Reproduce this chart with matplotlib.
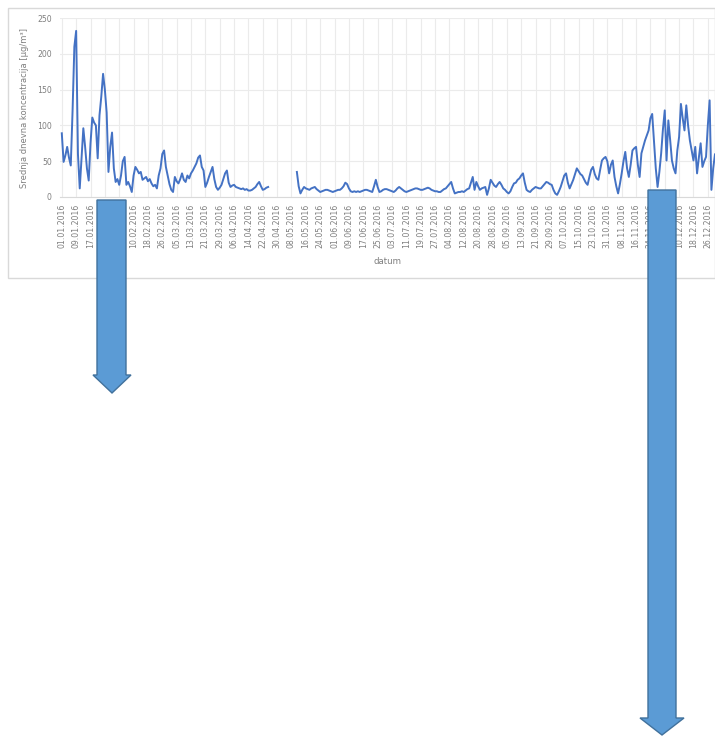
import numpy as np
import pandas as pd
import matplotlib
matplotlib.use("Agg")
import matplotlib.pyplot as plt
from matplotlib.patches import Rectangle, Polygon

# PODACI - srednja dnevna koncentracija 2016 (procjena s grafa)

jan_apr = [89, 49, 58, 70, 55, 44, 120, 210, 232, 60, 12, 55, 96, 70, 40, 23,
           75, 111, 104, 100, 54, 114, 140, 172, 150, 118, 35, 70, 90, 40, 21, 25,
           17, 30, 50, 56, 17, 21, 15, 7, 30, 42, 38, 33, 35, 24, 26, 28,
           22, 25, 19, 15, 17, 12, 30, 40, 60, 65, 42, 30, 18, 10, 7, 28,
           22, 19, 25, 33, 24, 21, 30, 26, 33, 37, 42, 47, 55, 58, 42, 37,
           14, 20, 28, 35, 42, 25, 14, 10, 13, 17, 25, 33, 37, 20, 14, 16,
           17, 14, 13, 12, 11, 12, 10, 11, 9, 9, 10, 12, 14, 18, 21, 15,
           10, 11, 13, 14]
praznina = 15  # dani bez mjerenja (kraj travnja - pocetak svibnja)
svi_dec = [35, 15, 5, 10, 14, 12, 11, 10, 12, 13, 14, 11, 9, 7, 8, 9,
           10, 10, 9, 8, 7, 8, 9, 10, 10, 12, 15, 20, 18, 12, 8, 7,
           8, 7, 8, 7, 8, 9, 10, 10, 9, 8, 7, 15, 24, 14, 7, 8,
           10, 11, 11, 10, 9, 8, 7, 9, 12, 14, 12, 10, 8, 7, 8, 9,
           10, 11, 12, 12, 11, 10, 10, 11, 12, 13, 12, 10, 9, 8, 8, 7,
           7, 9, 11, 12, 15, 18, 21, 12, 5, 6, 7, 7, 8, 7, 9, 11,
           12, 20, 28, 10, 21, 15, 10, 12, 13, 14, 3, 12, 24, 20, 16, 14,
           18, 21, 17, 12, 10, 7, 5, 8, 14, 19, 20, 24, 26, 30, 33, 20,
           10, 8, 7, 10, 12, 14, 13, 12, 12, 15, 18, 21, 20, 18, 17, 10,
           5, 3, 8, 14, 22, 30, 33, 20, 12, 18, 24, 32, 40, 36, 32, 30,
           25, 20, 17, 28, 38, 42, 32, 26, 24, 38, 51, 54, 56, 50, 33, 45,
           51, 28, 15, 5, 18, 33, 50, 63, 40, 28, 45, 65, 68, 70, 45, 28,
           61, 70, 79, 86, 93, 110, 116, 79, 40, 14, 35, 61, 95, 121, 51, 107,
           80, 51, 40, 33, 65, 84, 130, 110, 93, 128, 100, 79, 65, 51, 70, 33,
           55, 75, 42, 50, 56, 100, 135, 10, 40, 60, 45]

vrijednosti = jan_apr + [np.nan] * praznina + svi_dec
datumi = pd.date_range("2016-01-01", periods=len(vrijednosti), freq="D")
dani = np.arange(len(vrijednosti))

tick_dani = dani[::8]
tick_oznake = [d.strftime("%d.%m.%Y") for d in datumi[::8]]
y_tickovi = [0, 50, 100, 150, 200, 250]

# GRAF

W, H = 715, 736
fig = plt.figure(figsize=(W / 100, H / 100), dpi=100)
fig.patch.set_facecolor("white")

# okvir grafa
fig.patches.append(Rectangle((8 / W, 1 - 278 / H), (W - 8) / W, 270 / H,
                             transform=fig.transFigure, facecolor="none",
                             edgecolor="#d9d9d9", linewidth=1.0, zorder=-1))

ax = fig.add_axes([60 / W, 1 - 197 / H, (W - 60) / W, (197 - 18) / H])
ax.patch.set_alpha(0)
ax.plot(dani, vrijednosti, color="#4472C4", linewidth=1.4)
ax.set_xlim(-1, 364)
ax.set_ylim(0, 250)
ax.set_yticks(y_tickovi)
ax.set_xticks(tick_dani)
ax.set_xticklabels(tick_oznake, rotation=90, fontsize=5.6, color="#7f7f7f")
ax.tick_params(axis="y", labelsize=5.6, colors="#7f7f7f", length=0, pad=6)
ax.tick_params(axis="x", length=0, pad=5)
ax.grid(True, color="#ebebeb", linewidth=0.8)
ax.set_axisbelow(True)
for s in ["top", "right", "left"]:
    ax.spines[s].set_visible(False)
ax.spines["bottom"].set_color("#d9d9d9")
ax.set_xlabel("datum", fontsize=6.2, color="#7f7f7f", labelpad=6)
ax.set_ylabel("Srednja dnevna koncentracija [µg/m³]", fontsize=6,
              color="#7f7f7f", labelpad=6)

# strelice
def strelica(x0, x1, y_top, y_glava, hx0, hx1, y_vrh):
    pts = [(x0, y_top), (x1, y_top), (x1, y_glava), (hx1, y_glava),
           ((hx0 + hx1) / 2, y_vrh), (hx0, y_glava), (x0, y_glava)]
    pts = [(px / W, 1 - py / H) for px, py in pts]
    fig.patches.append(Polygon(pts, closed=True, transform=fig.transFigure,
                               facecolor="#5B9BD5", edgecolor="#41719C",
                               linewidth=1.0, zorder=5))

strelica(97, 126, 200, 375, 93, 131, 393)
strelica(648, 676, 190, 718, 640, 684, 735)

plt.savefig("out.png", dpi=100)
